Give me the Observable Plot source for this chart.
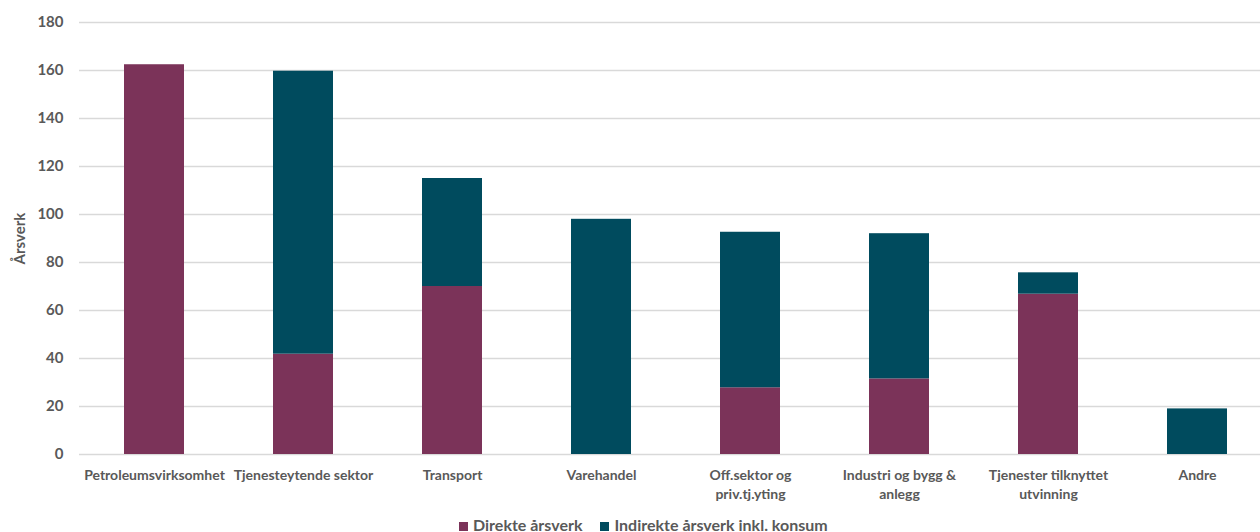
<!DOCTYPE html>
<html>
<head>
<meta charset="utf-8">
<script src="https://cdn.jsdelivr.net/npm/d3@7"></script>
<script src="https://cdn.jsdelivr.net/npm/@observablehq/plot@0.6"></script>
<style>
  html, body { margin: 0; padding: 0; background: #fff; overflow: hidden; }
  #chart svg { display: block; overflow: visible; max-width: none !important; }
  #legend { display: flex; gap: 18px; margin-left: 459px; padding-top: 11px; line-height: 18px;
            font-family: Lato, "Open Sans", sans-serif; font-weight: 700; font-size: 16px; color: #595959; }
  #legend span.sw { display: inline-block; width: 9px; height: 9px; margin-right: 5px; vertical-align: 0px; }
</style>
</head>
<body>
<div id="chart"></div>
<div id="legend"></div>
<script>
const categories = ["Petroleumsvirksomhet", "Tjenesteytende sektor", "Transport", "Varehandel",
  "Off.sektor og priv.tj.yting", "Industri og bygg & anlegg", "Tjenester tilknyttet utvinning", "Andre"];
const tickLabels = ["Petroleumsvirksomhet", "Tjenesteytende sektor", "Transport", "Varehandel",
  "Off.sektor og\npriv.tj.yting", "Industri og bygg &\nanlegg", "Tjenester tilknyttet\nutvinning", "Andre"];
const direkte = [162.4, 41.8, 70, 0, 27.8, 31.5, 66.8, 0];
const indirekte = [0, 117.9, 45, 98, 64.8, 60.5, 8.9, 19];
const seriesNames = ["Direkte årsverk", "Indirekte årsverk inkl. konsum"];
const seriesColors = ["#7b3359", "#004b5e"];
const yTicks = [0, 20, 40, 60, 80, 100, 120, 140, 160, 180];

const rows = [];
categories.forEach((c, i) => {
  rows.push({cat: c, series: seriesNames[0], value: direkte[i]});
  rows.push({cat: c, series: seriesNames[1], value: indirekte[i]});
});

const chart = Plot.plot({
  width: 1271,
  height: 505,
  marginLeft: 79,
  marginRight: 0,
  marginTop: 22,
  marginBottom: 51,
  style: {fontFamily: "Lato, 'Open Sans', sans-serif", fontSize: "14px", color: "#595959", fontWeight: 700, maxWidth: "none"},
  x: {domain: categories, paddingInner: 0.6, paddingOuter: 0.3, label: null},
  y: {domain: [0, 180], label: null},
  color: {domain: seriesNames, range: seriesColors},
  marks: [
    Plot.gridY(yTicks, {stroke: "#d9d9d9", strokeOpacity: 1, strokeWidth: 1.5}),
    Plot.barY(rows, Plot.stackY({x: "cat", y: "value", fill: "series"})),
    Plot.axisY(yTicks, {tickSize: 0, tickPadding: 16, fontSize: 15, label: "Årsverk",
      labelAnchor: "center", labelArrow: "none", labelOffset: 65}),
    Plot.axisX({tickSize: 0, tickPadding: 13, fontSize: 14, lineHeight: 1.3,
      tickFormat: (d) => tickLabels[categories.indexOf(d)], label: null})
  ]
});
document.getElementById("chart").appendChild(chart);

const legend = document.getElementById("legend");
seriesNames.forEach((name, i) => {
  const item = document.createElement("div");
  const sw = document.createElement("span");
  sw.className = "sw";
  sw.style.background = seriesColors[i];
  item.appendChild(sw);
  item.appendChild(document.createTextNode(name));
  legend.appendChild(item);
});
</script>
</body>
</html>
